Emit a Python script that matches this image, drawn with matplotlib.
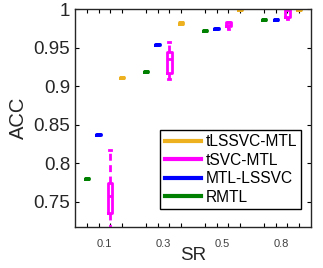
import numpy as np
import matplotlib
matplotlib.use("Agg")
import matplotlib.pyplot as plt
from matplotlib.lines import Line2D

plt.rcParams['font.family'] = ['Liberation Sans', 'DejaVu Sans']

# dados
sr_labels = ['0.1', '0.3', '0.5', '0.8']
methods = ['RMTL', 'MTL-LSSVC', 'tSVC-MTL', 'tLSSVC-MTL']
colors = ['#008000', '#0000FF', '#FF00FF', '#EDB120']

rmtl_med = [0.7798, 0.9192, 0.9728, 0.9870]
rmtl_q1 = [0.7791, 0.9185, 0.9721, 0.9863]
rmtl_q3 = [0.7805, 0.9199, 0.9735, 0.9877]

mtl_med = [0.8380, 0.9547, 0.9754, 0.9870]
mtl_q1 = [0.8373, 0.9540, 0.9747, 0.9863]
mtl_q3 = [0.8387, 0.9554, 0.9761, 0.9877]

tsvc_med = [0.7580, 0.9350, 0.9800, 0.9990]
tsvc_q1 = [0.7350, 0.9170, 0.9780, 0.9905]
tsvc_q3 = [0.7750, 0.9440, 0.9830, 1.0000]
tsvc_lo = [0.7000, 0.9095, 0.9740, 0.9873]
tsvc_hi = [0.8175, 0.9575, 0.9836, 1.0000]

tls_med = [0.9114, 0.9823, 1.0000, 1.0000]
tls_q1 = [0.9107, 0.9816, 0.9995, 0.9995]
tls_q3 = [0.9121, 0.9830, 1.0000, 1.0000]

# (med, q1, q3, lo, hi) por metodo
series = [
    (rmtl_med, rmtl_q1, rmtl_q3, rmtl_q1, rmtl_q3),
    (mtl_med, mtl_q1, mtl_q3, mtl_q1, mtl_q3),
    (tsvc_med, tsvc_q1, tsvc_q3, tsvc_lo, tsvc_hi),
    (tls_med, tls_q1, tls_q3, tls_q1, tls_q3),
]

fig = plt.figure(figsize=(3.23, 2.68), dpi=100)
ax = fig.add_axes([0.232, 0.153, 0.731, 0.812])

all_pos = []
for k, (med, q1, q3, lo, hi) in enumerate(series):
    stats = []
    pos = []
    for g in range(len(sr_labels)):
        stats.append(dict(med=med[g], q1=q1[g], q3=q3[g],
                          whislo=lo[g], whishi=hi[g], fliers=[]))
        pos.append(1 + 5 * g + k)
    all_pos += pos
    c = colors[k]
    ax.bxp(stats, positions=pos, widths=0.36, capwidths=0.15,
           showfliers=False, manage_ticks=False,
           boxprops=dict(color=c, linewidth=2.0),
           medianprops=dict(color=c, linewidth=2.0),
           whiskerprops=dict(color=c, linewidth=2.0, linestyle=(0, (2.5, 1.6))),
           capprops=dict(color=c, linewidth=2.0))

ax.set_xlim(0, 20)
ax.set_ylim(0.7172, 1.0)

# ticks em cada caixa, rotulos no centro do grupo
ax.set_xticks(sorted(all_pos))
ax.set_xticklabels([])
ax.set_xticks([2.5 + 5 * g for g in range(len(sr_labels))], minor=True)
ax.set_xticklabels(sr_labels, minor=True, fontsize=8, color='#404040')
ax.tick_params(axis='x', which='major', direction='in', length=3,
               top=True, bottom=True, width=0.8)
ax.tick_params(axis='x', which='minor', length=0, pad=8.5)

ax.set_yticks([0.75, 0.8, 0.85, 0.9, 0.95, 1.0])
ax.set_yticklabels(['0.75', '0.8', '0.85', '0.9', '0.95', '1'],
                   fontsize=13.5, color='#262626')
ax.tick_params(axis='y', direction='in', length=3, right=True, width=0.8)

for s in ax.spines.values():
    s.set_linewidth(1.0)
    s.set_color('#262626')

ax.set_xlabel('SR', fontsize=13.5, color='#262626', labelpad=-1)
ax.set_ylabel('ACC', fontsize=14.5, color='#262626', labelpad=4)

handles = [Line2D([], [], color=colors[k], linewidth=3) for k in [3, 2, 1, 0]]
labels = [methods[k] for k in [3, 2, 1, 0]]
leg = ax.legend(handles, labels, loc='lower right',
                bbox_to_anchor=(0.958, 0.083), borderaxespad=0,
                fontsize=11.2, handlelength=2.3, handletextpad=0.3,
                labelspacing=0.22, borderpad=0.28, fancybox=False,
                framealpha=1, edgecolor='black')
leg.get_frame().set_linewidth(1.0)

fig.savefig('out.png', dpi=100)
